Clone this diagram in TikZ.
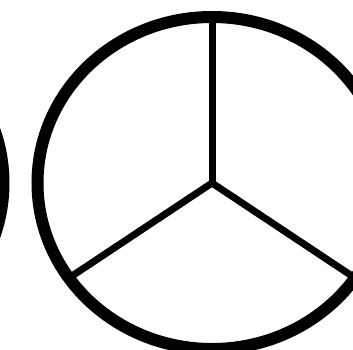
\documentclass[tikz,border=0pt]{standalone}
\begin{document}
\begin{tikzpicture}[x=1pt,y=-1pt,
  ring/.style={draw=black,line width=12pt},
  spoke/.style={draw=black,line width=7pt,line join=miter}]
\useasboundingbox (0,0) rectangle (353,350);
\clip (0,0) rectangle (353,350);
\coordinate (c) at (212,183);
\coordinate (cl) at (-171,183);
\coordinate (top) at (212,17);
\coordinate (bl) at (69,278);
\coordinate (br) at (355,278);
\draw[ring] (c) ellipse [x radius=174.5, y radius=166];
\draw[ring] (cl) ellipse [x radius=174.5, y radius=166];
\draw[spoke] (top) -- (c);
\draw[spoke] (bl) -- (c) -- (br);
\end{tikzpicture}
\end{document}
